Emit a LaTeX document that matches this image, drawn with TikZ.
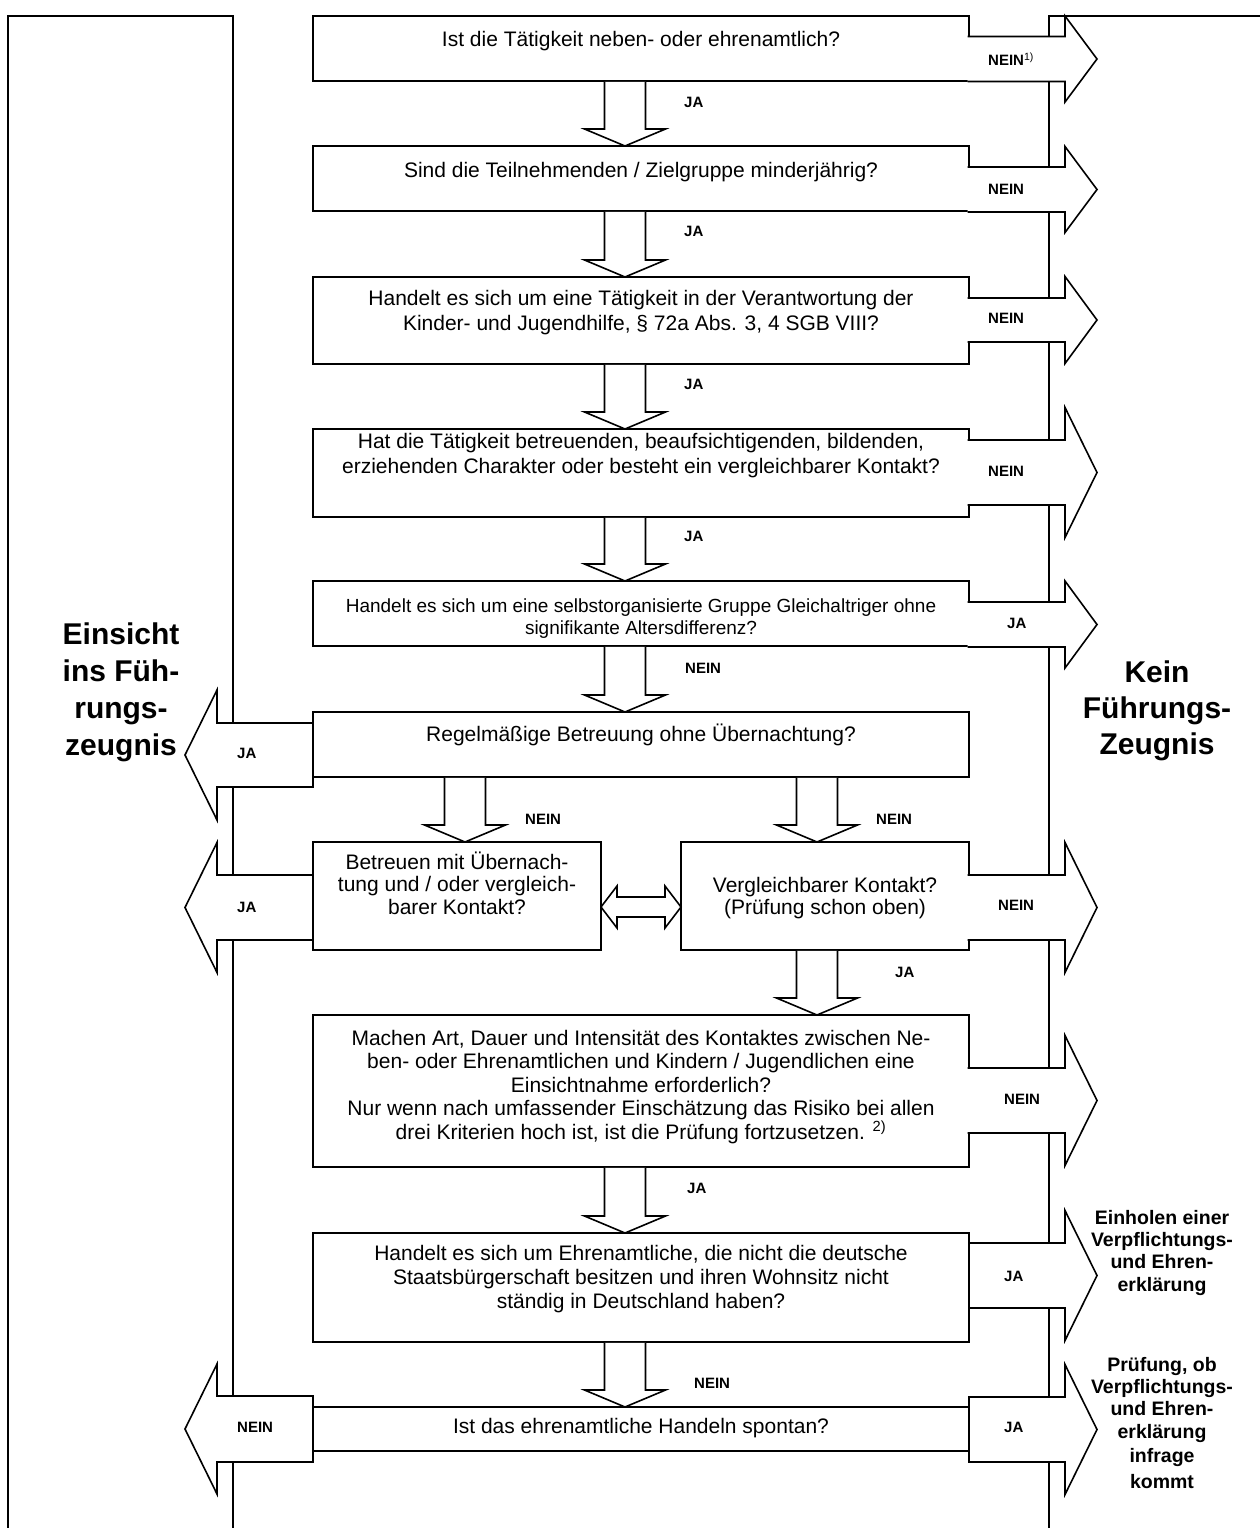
\documentclass[tikz,border=0pt]{standalone}
\usepackage{fontspec}
\setmainfont{Liberation Sans}
\usetikzlibrary{calc}
\newcommand{\firststrut}{\rule{0pt}{0.92em}}
\tikzset{
  frame/.style={line width=1.8pt},
  qbox/.style={draw, line width=1.8pt, inner sep=0pt, outer sep=0pt},
  blockarrow/.style={draw, fill=white, line width=1.6pt, line join=miter},
  qtext/.style={font=\fontsize{21}{24}\selectfont, align=center, anchor=north, inner sep=0pt},
  smalltext/.style={qtext, font=\fontsize{19}{22}\selectfont},
  lbl/.style={font=\fontsize{15}{15}\selectfont\bfseries, inner sep=0pt, anchor=base west},
  heading/.style={font=\fontsize{30}{37}\selectfont\bfseries, align=center, anchor=north, inner sep=0pt},
  subheading/.style={font=\fontsize{19.5}{22.4}\selectfont\bfseries, align=center, anchor=north, inner sep=0pt},
}
% box: name, x1, y1, x2, y2
\newcommand{\QBox}[5]{\node[qbox, minimum width={#4-#2}, minimum height={#5-#3}] (#1) at ({(#2+#4)/2},{(#3+#5)/2}) {};}
% down block arrow: from box, to box, centre x, name
\newcommand{\DBlock}[4]{%
  \coordinate (#4s) at (#1.south -| #3,0);
  \coordinate (#4e) at (#2.north -| #3,0);
  \filldraw[blockarrow] ($(#4s)+(-20.5,0.9)$) -- ($(#4e)+(-20.5,-17)$) -- ($(#4e)+(-40.5,-17)$) -- (#4e)
     -- ($(#4e)+(40.5,-17)$) -- ($(#4e)+(20.5,-17)$) -- ($(#4s)+(20.5,0.9)$);}
% right block arrow, open back: box, centre y, shaft half, head half, name
\newcommand{\RBlock}[5]{%
  \coordinate (#5) at (#1.east |- 0,#2);
  \filldraw[blockarrow] ($(#5)+(-1.5,-#3)$) -- ($(#5)+(96,-#3)$) -- ($(#5)+(96,-#4)$) -- ($(#5)+(128,0)$)
     -- ($(#5)+(96,#4)$) -- ($(#5)+(96,#3)$) -- ($(#5)+(-1.5,#3)$);}
% right block arrow, closed back
\newcommand{\RBlockC}[5]{%
  \coordinate (#5) at (#1.east |- 0,#2);
  \filldraw[blockarrow] ($(#5)+(0,-#3)$) -- ($(#5)+(96,-#3)$) -- ($(#5)+(96,-#4)$) -- ($(#5)+(128,0)$)
     -- ($(#5)+(96,#4)$) -- ($(#5)+(96,#3)$) -- ($(#5)+(0,#3)$) -- cycle;}
% left block arrow, closed back
\newcommand{\LBlock}[5]{%
  \coordinate (#5) at (#1.west |- 0,#2);
  \filldraw[blockarrow] ($(#5)+(0,-#3)$) -- ($(#5)+(-96,-#3)$) -- ($(#5)+(-96,-#4)$) -- ($(#5)+(-128,0)$)
     -- ($(#5)+(-96,#4)$) -- ($(#5)+(-96,#3)$) -- ($(#5)+(0,#3)$) -- cycle;}
\begin{document}
\begin{tikzpicture}[x=1pt,y=-1pt]
\useasboundingbox (0,0) rectangle (1259,1528);
% outer frames
\draw[frame] (8,1532) -- (8,16) -- (233,16) -- (233,1532);
\draw[frame] (1263,16) -- (1049,16) -- (1049,1532);
% question boxes
\QBox{b1}{313}{16}{969}{81}
\QBox{b2}{313}{146}{969}{211}
\QBox{b3}{313}{277}{969}{364}
\QBox{b4}{313}{429}{969}{517}
\QBox{b5}{313}{581}{969}{646}
\QBox{b6}{313}{712}{969}{777}
\QBox{b7}{313}{842}{601}{950}
\QBox{b8}{681}{842}{969}{950}
\QBox{b9}{313}{1015}{969}{1167}
\QBox{b10}{313}{1233}{969}{1342}
\QBox{b11}{313}{1407}{969}{1451}
% down arrows
\DBlock{b1}{b2}{625}{d1}
\DBlock{b2}{b3}{625}{d2}
\DBlock{b3}{b4}{625}{d3}
\DBlock{b4}{b5}{625}{d4}
\DBlock{b5}{b6}{625}{d5}
\DBlock{b6}{b7}{465}{d6}
\DBlock{b6}{b8}{817}{d7}
\DBlock{b8}{b9}{817}{d8}
\DBlock{b9}{b10}{625}{d9}
\DBlock{b10}{b11}{625}{d10}
% right arrows
\RBlock{b1}{59}{22.5}{43}{r1}
\RBlock{b2}{189.5}{22.5}{43}{r2}
\RBlock{b3}{320}{22}{43.5}{r3}
\RBlock{b4}{472.5}{32.5}{65}{r4}
\RBlock{b5}{624.5}{22.5}{43.5}{r5}
\RBlock{b8}{907.5}{32.5}{65}{r6}
\RBlock{b9}{1100.5}{32.5}{65}{r7}
\RBlockC{b10}{1275.5}{32.5}{65}{r8}
\RBlockC{b11}{1429.5}{32.5}{65}{r9}
% left arrows
\LBlock{b6}{755}{32}{65}{l1}
\LBlock{b7}{907.5}{32.5}{65}{l2}
\LBlock{b11}{1429}{33}{65}{l3}
% double arrow between b7 and b8
\coordinate (da) at (b7.east |- 0,907);
\coordinate (db) at (b8.west |- 0,907);
\filldraw[blockarrow] (da) -- ($(da)+(16,-21)$) -- ($(da)+(16,-10)$) -- ($(db)+(-16,-10)$) -- ($(db)+(-16,-21)$)
  -- (db) -- ($(db)+(-16,21)$) -- ($(db)+(-16,10)$) -- ($(da)+(16,10)$) -- ($(da)+(16,21)$) -- cycle;
% box texts
\node[qtext] (t1) at (641,26.6) {\firststrut Ist die Tätigkeit neben- oder ehrenamtlich?};
\node[qtext] (t2) at (641,157.6) {\firststrut Sind die Teilnehmenden / Zielgruppe minderjährig?};
\node[qtext, font=\fontsize{21}{25}\selectfont] (t3) at (641,285.6) {\firststrut Handelt es sich um eine Tätigkeit in der Verantwortung der\\Kinder- und Jugendhilfe, § 72a Abs. 3, 4 SGB VIII?};
\node[qtext, font=\fontsize{21}{25}\selectfont] (t4) at (641,428.6) {\firststrut Hat die Tätigkeit betreuenden, beaufsichtigenden, bildenden,\\erziehenden Charakter oder besteht ein vergleichbarer Kontakt?};
\node[smalltext] (t5) at (641,594.5) {\firststrut Handelt es sich um eine selbstorganisierte Gruppe Gleichaltriger ohne\\signifikante Altersdifferenz?};
\node[qtext] (t6) at (641,721.6) {\firststrut Regelmäßige Betreuung ohne Übernachtung?};
\node[qtext, font=\fontsize{21}{22.5}\selectfont] (t7) at (457,849.6) {\firststrut Betreuen mit Übernach-\\tung und / oder vergleich-\\barer Kontakt?};
\node[qtext, font=\fontsize{21}{22.5}\selectfont] (t8) at (825,872.6) {\firststrut Vergleichbarer Kontakt?\\(Prüfung schon oben)};
\node[qtext, font=\fontsize{21}{23.5}\selectfont] (t9) at (641,1025.6) {\firststrut Machen Art, Dauer und Intensität des Kontaktes zwischen Ne-\\ben- oder Ehrenamtlichen und Kindern / Jugendlichen eine\\Einsichtnahme erforderlich?\\Nur wenn nach umfassender Einschätzung das Risiko bei allen\\drei Kriterien hoch ist, ist die Prüfung fortzusetzen. \textsuperscript{2)}};
\node[qtext] (t10) at (641,1240.6) {\firststrut Handelt es sich um Ehrenamtliche, die nicht die deutsche\\Staatsbürgerschaft besitzen und ihren Wohnsitz nicht\\ständig in Deutschland haben?};
\node[qtext] (t11) at (641,1413.6) {\firststrut Ist das ehrenamtliche Handeln spontan?};
% side headings
\node[heading] (hl) at (121,616.4) {\firststrut Einsicht\\ins Füh-\\rungs-\\zeugnis};
\node[heading, font=\fontsize{30}{36}\selectfont\bfseries] (hr) at (1157,654.4) {\firststrut Kein\\Führungs-\\Zeugnis};
\node[subheading] (hb1) at (1162,1206) {\firststrut Einholen einer\\Verpflichtungs-\\und Ehren-\\erklärung};
\node[subheading] (hb2) at (1162,1353) {\firststrut Prüfung, ob\\Verpflichtungs-\\und Ehren-\\erklärung\\[1.5pt]infrage\\[4pt]kommt};
% labels on right arrows
\node[lbl] (nr1) at (988,65.5) {NEIN\textsuperscript{\mdseries 1)}};
\node[lbl] (nr2) at (988,194.5) {NEIN};
\node[lbl] (nr3) at (988,323.5) {NEIN};
\node[lbl] (nr4) at (988,476.5) {NEIN};
\node[lbl] (nr5) at (1007,628.5) {JA};
\node[lbl] (nr6) at (998,910.5) {NEIN};
\node[lbl] (nr7) at (1004,1104.5) {NEIN};
\node[lbl] (nr8) at (1004,1281) {JA};
\node[lbl] (nr9) at (1004,1432.5) {JA};
% labels on left arrows
\node[lbl] (nl1) at (237,758.5) {JA};
\node[lbl] (nl2) at (237,912.5) {JA};
\node[lbl] (nl3) at (237,1432.5) {NEIN};
% labels beside down arrows
\node[lbl] (nd1) at (684,107.5) {JA};
\node[lbl] (nd2) at (684,236.5) {JA};
\node[lbl] (nd3) at (684,389) {JA};
\node[lbl] (nd4) at (684,541.5) {JA};
\node[lbl] (nd5) at (685,673) {NEIN};
\node[lbl] (nd6) at (525,824) {NEIN};
\node[lbl] (nd7) at (876,824) {NEIN};
\node[lbl] (nd8) at (895,977) {JA};
\node[lbl] (nd9) at (687,1193) {JA};
\node[lbl] (nd10) at (694,1388.5) {NEIN};
\end{tikzpicture}
\end{document}
